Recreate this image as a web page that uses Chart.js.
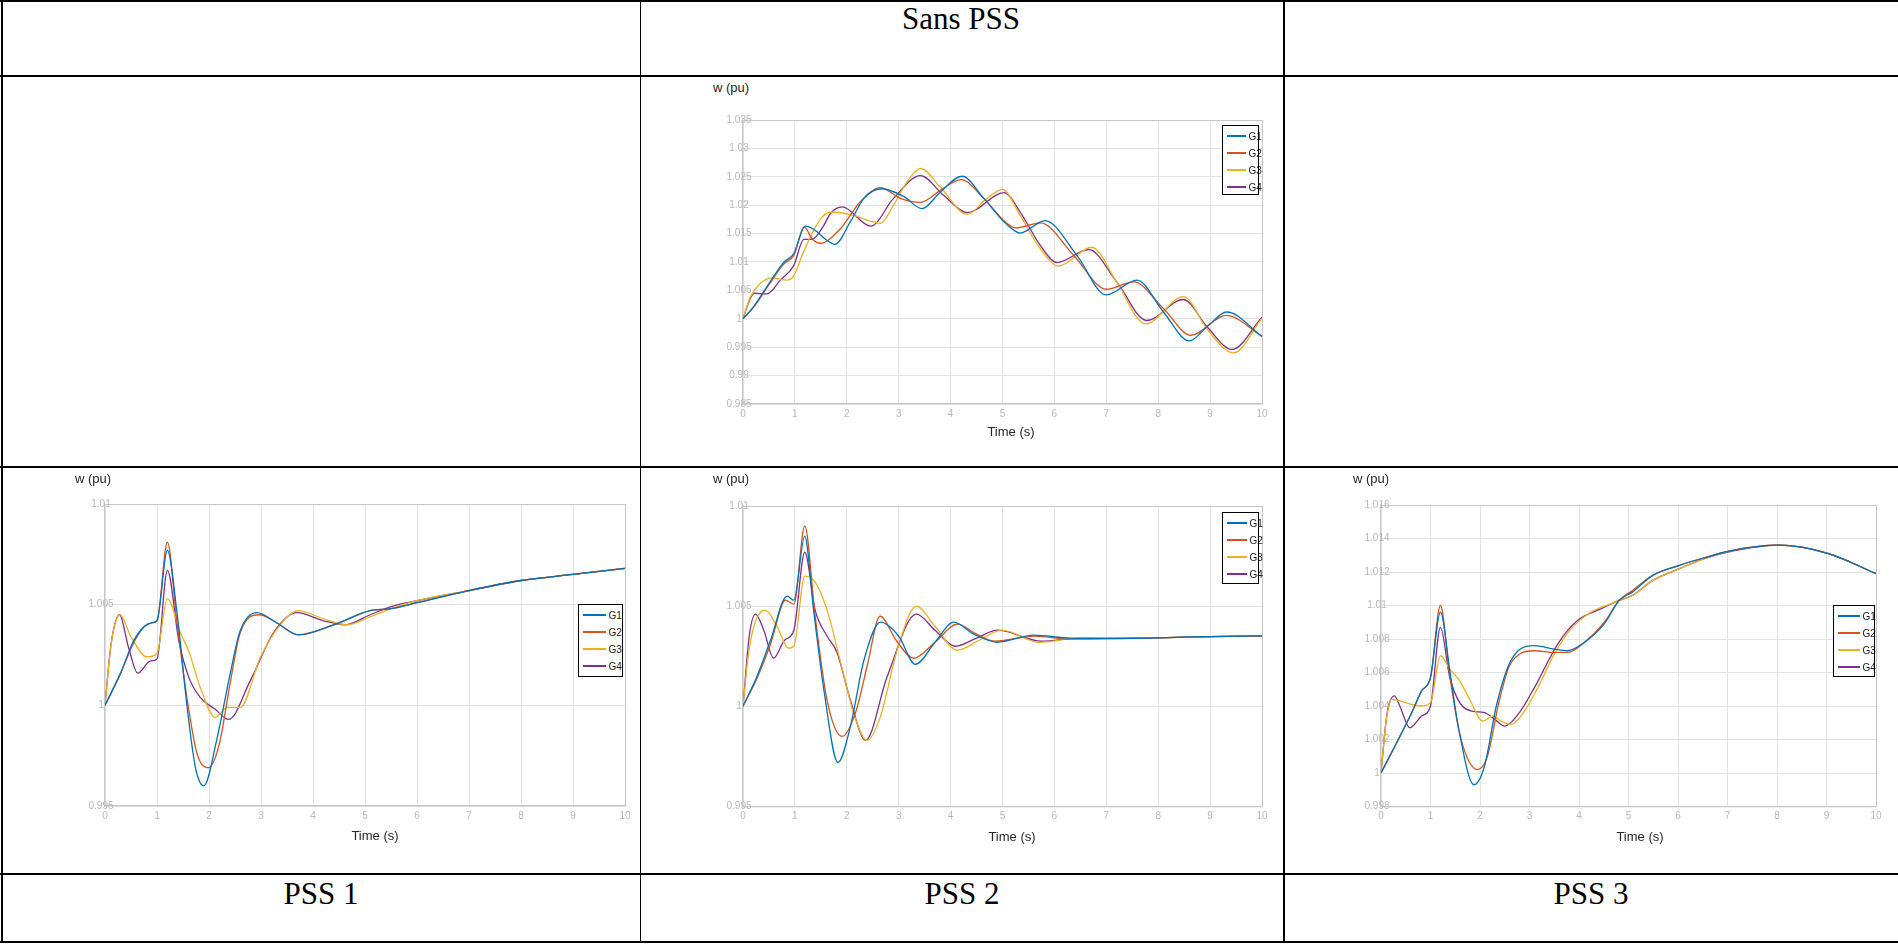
<!DOCTYPE html>
<html>
<head>
<meta charset="utf-8">
<title>Sans PSS / PSS 1 / PSS 2 / PSS 3</title>
<script src="https://cdn.jsdelivr.net/npm/chart.js@4.4.1/dist/chart.umd.min.js"></script>
<style>
  html, body { margin: 0; padding: 0; background: #fff; }
  body { width: 1898px; height: 944px; position: relative; overflow: hidden; font-family: "Liberation Sans", Arial, sans-serif; }
  .rule { position: absolute; background: #000; }
  .cap { position: absolute; font-family: "Liberation Serif", "Times New Roman", serif; font-size: 31px; line-height: 1; color: #000; white-space: nowrap; transform: translateX(-50%); }
  canvas { position: absolute; }
  .ylab, .xlab { position: absolute; font-size: 13px; line-height: 1; color: #262626; white-space: nowrap; }
  .ylab { transform: translateY(-50%); }
  .xlab { transform: translate(-50%, -50%); }
  .legend { position: absolute; box-sizing: border-box; background: #fff; padding: 2.5px 0 0 4.5px; }
  .legend::after { content: ""; position: absolute; left: 0; top: 0; right: 0; bottom: 0; border: 1.5px solid #000; }
  .lg-row { display: flex; align-items: center; height: 17px; font-size: 10px; color: #222; white-space: nowrap; }
  .lg-line { flex: none; height: 1.3px; margin-right: 3px; }
</style>
</head>
<body>

<!-- table rules -->
<div class="rule" style="left:0;top:0;width:1898px;height:2px"></div>
<div class="rule" style="left:0;top:75px;width:1898px;height:2px"></div>
<div class="rule" style="left:0;top:466px;width:1898px;height:2px"></div>
<div class="rule" style="left:0;top:873px;width:1898px;height:2px"></div>
<div class="rule" style="left:0;top:941px;width:1898px;height:2px"></div>
<div class="rule" style="left:1px;top:0;width:2px;height:943px"></div>
<div class="rule" style="left:640px;top:0;width:1px;height:943px"></div>
<div class="rule" style="left:1283px;top:0;width:2px;height:943px"></div>

<div class="cap" style="left:961px;top:3px">Sans PSS</div>
<div class="cap" style="left:321px;top:878px">PSS 1</div>
<div class="cap" style="left:962px;top:878px">PSS 2</div>
<div class="cap" style="left:1591px;top:878px">PSS 3</div>

<canvas id="sansChart"></canvas>
<canvas id="pss1Chart"></canvas>
<canvas id="pss2Chart"></canvas>
<canvas id="pss3Chart"></canvas>

<div class="ylab" style="left:713px;top:87px">w (pu)</div>
<div class="ylab" style="left:75px;top:478px">w (pu)</div>
<div class="ylab" style="left:713px;top:478px">w (pu)</div>
<div class="ylab" style="left:1353px;top:478px">w (pu)</div>
<div class="xlab" style="left:1011px;top:431px">Time (s)</div>
<div class="xlab" style="left:375px;top:835px">Time (s)</div>
<div class="xlab" style="left:1012px;top:836px">Time (s)</div>
<div class="xlab" style="left:1640px;top:836px">Time (s)</div>

<script>
"use strict";

const timeTicks = [0, 1, 2, 3, 4, 5, 6, 7, 8, 9, 10];
const sansTicks = [0.985, 0.99, 0.995, 1, 1.005, 1.01, 1.015, 1.02, 1.025, 1.03, 1.035];
const pss12Ticks = [0.995, 1, 1.005, 1.01];
const pss3Ticks = [0.998, 1, 1.002, 1.004, 1.006, 1.008, 1.01, 1.012, 1.014, 1.016];
const genLabels = ["G1", "G2", "G3", "G4"];
const genColors = ["#0072BD", "#D95319", "#EDB120", "#7E2F8E"];

// [time (s), w (pu)]
const sansG1 = [[0,1.0],[0.21,1.0022],[0.5,1.0062],[0.78,1.0099],[0.98,1.0115],[1.2,1.0163],[1.39,1.0156],[1.59,1.0140],[1.77,1.0131],[2.07,1.0171],[2.33,1.0212],[2.68,1.0229],[3.1,1.0215],[3.45,1.0194],[3.8,1.0223],[4.22,1.0251],[4.64,1.0212],[5.06,1.0168],[5.34,1.0151],[5.82,1.0173],[6.43,1.0112],[7.0,1.0042],[7.59,1.0068],[8.1,1.0012],[8.6,0.9961],[8.95,0.9987],[9.32,1.0012],[10,0.9969]];
const sansG2 = [[0,1.0],[0.21,1.0021],[0.5,1.0060],[0.78,1.0096],[0.98,1.0112],[1.18,1.0162],[1.33,1.0141],[1.49,1.0133],[1.88,1.0159],[2.26,1.0206],[2.65,1.0231],[3.03,1.0212],[3.42,1.0205],[3.8,1.0226],[4.2,1.0245],[4.64,1.0212],[5.06,1.0170],[5.25,1.0160],[5.73,1.0169],[6.37,1.0112],[7.0,1.0052],[7.53,1.0065],[8.1,1.0018],[8.63,0.9971],[9.31,1.0006],[10,0.9969]];
const sansG3 = [[0,1.0],[0.14,1.0038],[0.33,1.0062],[0.56,1.0072],[0.85,1.0068],[0.98,1.0076],[1.14,1.0112],[1.33,1.0150],[1.52,1.0179],[1.72,1.0188],[2.13,1.0182],[2.45,1.0172],[2.65,1.0168],[2.9,1.0200],[3.16,1.0241],[3.42,1.0265],[3.8,1.0232],[4.32,1.0184],[4.7,1.0212],[5.0,1.0228],[5.34,1.0182],[5.73,1.0123],[6.08,1.0093],[6.72,1.0126],[7.2,1.0065],[7.75,0.9991],[8.49,1.0039],[8.94,0.9982],[9.45,0.9940],[10,1.0001]];
const sansG4 = [[0,1.0],[0.11,1.0029],[0.21,1.0045],[0.46,1.0044],[0.72,1.0068],[0.98,1.0094],[1.17,1.0140],[1.33,1.0140],[1.56,1.0165],[1.68,1.0185],[1.91,1.0197],[2.46,1.0163],[2.9,1.0212],[3.42,1.0252],[3.87,1.0217],[4.32,1.0187],[5.03,1.0222],[5.34,1.0188],[5.73,1.0129],[6.05,1.0099],[6.66,1.0122],[7.2,1.0065],[7.78,0.9997],[8.48,1.0034],[8.95,0.9985],[9.42,0.9946],[10,1.0003]];

const pss1G1 = [[0,1.0],[0.3,1.0016],[0.55,1.0032],[0.75,1.0039],[0.9,1.0041],[1.0,1.0042],[1.2,1.0077],[1.38,1.0047],[1.58,0.9999],[1.74,0.9969],[1.9,0.9960],[2.15,0.9983],[2.41,1.0016],[2.6,1.0037],[2.92,1.0046],[3.3,1.0041],[3.72,1.0035],[4.4,1.0040],[5.1,1.0047],[5.5,1.0048],[6,1.0051],[7,1.0057],[8,1.0062],[9,1.0065],[10,1.0068]];
const pss1G2 = [[0,1.0],[0.3,1.0016],[0.55,1.0031],[0.75,1.0039],[0.9,1.0041],[1.0,1.0042],[1.2,1.0081],[1.38,1.0042],[1.58,1.0003],[1.77,0.9976],[1.99,0.9969],[2.2,0.9981],[2.4,1.0010],[2.6,1.0036],[2.97,1.0045],[3.3,1.0041],[3.72,1.0035],[4.4,1.0040],[5.1,1.0047],[5.5,1.0048],[6,1.0051],[7,1.0057],[8,1.0062],[9,1.0065],[10,1.0068]];
const pss1G3 = [[0,1.0],[0.12,1.0031],[0.29,1.0045],[0.5,1.0034],[0.81,1.0024],[1.0,1.0026],[1.2,1.0053],[1.45,1.0036],[1.61,1.0027],[1.83,1.0009],[2.12,0.9994],[2.35,0.9999],[2.6,0.9999],[2.99,1.0024],[3.37,1.0040],[3.72,1.0047],[4.2,1.0043],[4.65,1.0040],[5.1,1.0044],[5.5,1.0048],[6,1.0052],[7,1.0057],[8,1.0062],[9,1.0065],[10,1.0068]];
const pss1G4 = [[0,1.0],[0.12,1.0031],[0.28,1.0045],[0.45,1.0029],[0.63,1.0016],[0.87,1.0022],[1.0,1.0023],[1.2,1.0067],[1.42,1.0032],[1.61,1.0014],[1.83,1.0004],[2.12,0.9998],[2.38,0.9993],[2.79,1.0012],[3.24,1.0036],[3.69,1.0046],[4.2,1.0042],[4.62,1.0040],[5.1,1.0045],[5.5,1.0049],[6,1.0052],[7,1.0057],[8,1.0062],[9,1.0065],[10,1.0068]];

const pss2G1 = [[0,1.0],[0.27,1.0015],[0.53,1.0033],[0.85,1.0055],[0.98,1.0053],[1.19,1.0085],[1.36,1.0048],[1.56,1.0008],[1.83,0.9972],[2.07,0.9990],[2.33,1.0023],[2.65,1.0042],[3.0,1.0035],[3.32,1.0021],[3.7,1.0032],[4.06,1.0042],[4.45,1.0036],[4.9,1.0032],[5.6,1.00355],[6.3,1.0034],[7,1.00338],[8,1.00342],[9,1.00348],[10,1.00352]];
const pss2G2 = [[0,1.0],[0.27,1.0014],[0.53,1.0031],[0.82,1.0053],[0.98,1.0051],[1.19,1.0090],[1.39,1.0045],[1.62,1.0003],[1.91,0.9985],[2.17,0.9997],[2.4,1.0021],[2.64,1.0045],[2.95,1.0033],[3.29,1.0024],[3.7,1.0032],[4.13,1.0041],[4.5,1.0036],[4.86,1.00325],[5.6,1.0035],[6.3,1.00335],[7,1.00338],[8,1.00342],[9,1.00348],[10,1.00352]];
const pss2G3 = [[0,1.0],[0.1,1.0025],[0.21,1.0040],[0.43,1.0048],[0.65,1.0040],[0.88,1.0029],[0.98,1.0030],[1.19,1.0065],[1.39,1.0062],[1.62,1.0048],[1.88,1.0022],[2.15,0.9995],[2.39,0.9983],[2.65,0.9995],[2.97,1.0028],[3.34,1.0050],[3.7,1.0040],[4.13,1.0028],[4.55,1.0033],[4.99,1.0038],[5.7,1.0032],[6.5,1.00342],[7,1.0034],[8,1.00342],[9,1.00348],[10,1.00352]];
const pss2G4 = [[0,1.0],[0.12,1.0035],[0.24,1.0046],[0.4,1.0038],[0.59,1.0024],[0.8,1.0033],[0.98,1.0038],[1.19,1.0077],[1.39,1.0048],[1.62,1.0035],[1.81,1.0027],[2.07,1.0003],[2.36,0.9983],[2.78,1.0015],[3.34,1.0046],[3.7,1.0038],[4.09,1.0030],[4.5,1.0034],[4.9,1.0038],[5.75,1.00325],[6.5,1.0034],[7,1.0034],[8,1.00342],[9,1.00348],[10,1.00352]];

const pss3G1 = [[0,1.0],[0.28,1.0016],[0.62,1.0036],[0.82,1.0049],[1.0,1.0057],[1.2,1.0096],[1.39,1.0061],[1.56,1.0028],[1.88,0.9993],[2.09,1.0004],[2.33,1.0040],[2.56,1.0063],[2.77,1.0073],[3.09,1.0076],[3.5,1.0074],[3.77,1.0073],[4.11,1.0078],[4.51,1.0089],[4.81,1.0103],[5.08,1.0108],[5.49,1.0118],[6.03,1.0124],[6.53,1.01285],[7.03,1.01325],[8.03,1.0136],[9.04,1.0131],[10,1.0119]];
const pss3G2 = [[0,1.0],[0.28,1.0016],[0.62,1.0036],[0.82,1.0049],[1.0,1.0057],[1.2,1.0100],[1.39,1.0058],[1.6,1.0022],[1.95,1.0002],[2.15,1.0010],[2.38,1.0042],[2.58,1.0063],[2.8,1.0071],[3.09,1.0073],[3.5,1.0072],[3.77,1.0072],[4.11,1.0078],[4.51,1.0090],[4.81,1.0103],[5.08,1.0109],[5.49,1.0118],[6.03,1.0124],[6.53,1.01285],[7.03,1.01325],[8.03,1.0136],[9.04,1.0131],[10,1.0119]];
const pss3G3 = [[0,1.0],[0.1,1.0030],[0.21,1.0044],[0.62,1.0041],[0.82,1.0040],[1.0,1.0042],[1.2,1.0070],[1.39,1.0062],[1.59,1.0055],[1.79,1.0044],[2.06,1.0031],[2.26,1.0034],[2.43,1.0031],[2.63,1.0029],[2.9,1.0037],[3.17,1.0051],[3.5,1.0071],[3.84,1.0086],[4.24,1.0096],[4.64,1.0101],[4.81,1.0103],[5.08,1.0106],[5.49,1.0115],[6.03,1.0122],[6.53,1.0128],[7.03,1.01325],[8.03,1.0136],[9.04,1.0131],[10,1.0119]];
const pss3G4 = [[0,1.0],[0.12,1.0035],[0.27,1.0046],[0.38,1.0040],[0.58,1.0027],[0.82,1.0034],[1.0,1.0040],[1.2,1.0087],[1.39,1.0057],[1.59,1.0042],[1.83,1.0037],[2.09,1.0036],[2.3,1.0032],[2.5,1.0028],[2.77,1.0035],[3.1,1.0051],[3.57,1.0077],[3.97,1.0091],[4.44,1.0098],[4.81,1.0103],[5.08,1.0106],[5.49,1.0115],[6.03,1.0122],[6.53,1.0128],[7.03,1.0132],[8.03,1.0136],[9.04,1.0131],[10,1.0119]];

Chart.defaults.font.family = '"Liberation Sans", Arial, sans-serif';

const tickColor = "#b8b8b8";
const gridColor = "#e3e3e3";
const frameColor = "#c6c6c6";
const xAxisH = 22;

// Builds one MATLAB-like panel; plot = wanted chart area inside the page
function drawPanel(id, series, yTicks, box, plot) {
  const canvas = document.getElementById(id);
  canvas.width = box.w;
  canvas.height = box.h;
  canvas.style.left = box.x + "px";
  canvas.style.top = box.y + "px";

  const yAxisW = plot.l - box.x;
  const padding = {
    left: 0,
    top: plot.t - box.y,
    right: box.x + box.w - plot.r,
    bottom: box.y + box.h - plot.b - xAxisH
  };
  const yMin = yTicks[0];
  const yMax = yTicks[yTicks.length - 1];

  return new Chart(canvas, {
    type: "line",
    data: {
      datasets: series.map((pts, i) => ({
        label: genLabels[i],
        data: pts.map(p => ({ x: p[0], y: p[1] })),
        borderColor: genColors[i],
        borderWidth: 1.3,
        pointRadius: 0,
        fill: false,
        cubicInterpolationMode: "monotone"
      }))
    },
    options: {
      responsive: false,
      animation: false,
      devicePixelRatio: 1,
      layout: { padding: padding },
      plugins: { legend: { display: false }, tooltip: { enabled: false } },
      scales: {
        x: {
          type: "linear",
          min: 0,
          max: 10,
          afterBuildTicks: s => { s.ticks = timeTicks.map(v => ({ value: v })); },
          afterFit: s => { s.height = xAxisH; },
          grid: {
            drawTicks: false,
            lineWidth: 1,
            color: ctx => (ctx.tick && ctx.tick.value === 10 ? frameColor : gridColor)
          },
          border: { color: frameColor, width: 1.2 },
          ticks: { padding: 4, color: tickColor, font: { size: 10 }, maxRotation: 0, autoSkip: false }
        },
        y: {
          type: "linear",
          min: yMin,
          max: yMax,
          afterBuildTicks: s => { s.ticks = yTicks.map(v => ({ value: v })); },
          afterFit: s => { s.width = yAxisW; },
          grid: {
            drawTicks: false,
            lineWidth: 1,
            color: ctx => (ctx.tick && Math.abs(ctx.tick.value - yMax) < 1e-9 ? frameColor : gridColor)
          },
          border: { color: frameColor, width: 1.2 },
          ticks: {
            // mirrored so the labels are not clipped where they run over the axis
            mirror: true,
            crossAlign: "center",
            padding: -16.5,
            color: tickColor,
            font: { size: 10 },
            autoSkip: false,
            callback: v => String(Number(v.toFixed(3)))
          }
        }
      }
    }
  });
}

// HTML legend with the boxed MATLAB look
function addLegend(box, sampleLen) {
  const div = document.createElement("div");
  div.className = "legend";
  div.style.left = box.x + "px";
  div.style.top = box.y + "px";
  div.style.width = box.w + "px";
  div.style.height = box.h + "px";
  let html = "";
  genLabels.forEach((name, i) => {
    html += `<div class="lg-row"><span class="lg-line" style="width:${sampleLen}px;background:${genColors[i]}"></span><span>${name}</span></div>`;
  });
  div.innerHTML = html;
  document.body.appendChild(div);
}

drawPanel("sansChart", [sansG1, sansG2, sansG3, sansG4], sansTicks,
  { x: 700, y: 100, w: 580, h: 330 }, { l: 743, t: 120, r: 1262, b: 404 });
drawPanel("pss1Chart", [pss1G1, pss1G2, pss1G3, pss1G4], pss12Ticks,
  { x: 62, y: 484, w: 576, h: 346 }, { l: 105, t: 504, r: 625, b: 806 });
drawPanel("pss2Chart", [pss2G1, pss2G2, pss2G3, pss2G4], pss12Ticks,
  { x: 700, y: 486, w: 580, h: 344 }, { l: 743, t: 506, r: 1262, b: 806.5 });
drawPanel("pss3Chart", [pss3G1, pss3G2, pss3G3, pss3G4], pss3Ticks,
  { x: 1338, y: 485, w: 558, h: 345 }, { l: 1381, t: 505, r: 1876, b: 806.5 });

addLegend({ x: 1222, y: 125, w: 37, h: 70 }, 19);
addLegend({ x: 578, y: 604, w: 45, h: 73 }, 23);
addLegend({ x: 1222, y: 512, w: 37, h: 72 }, 20);
addLegend({ x: 1833, y: 605, w: 42, h: 72 }, 22);
</script>
</body>
</html>
